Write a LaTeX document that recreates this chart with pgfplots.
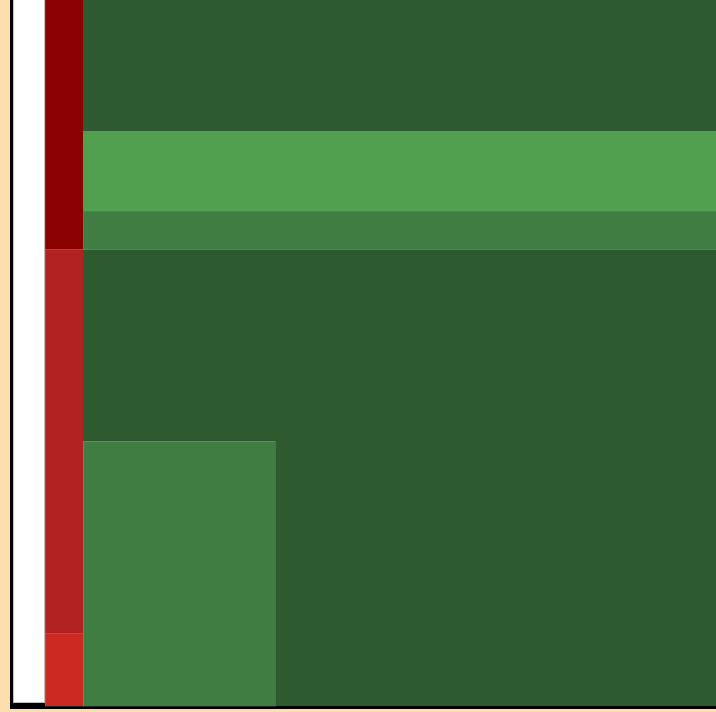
\documentclass[border=0pt]{standalone}
\usepackage{pgfplots}
\pgfplotsset{compat=1.18}
\definecolor{bgorange}{RGB}{255,222,173}
\definecolor{dkred}{RGB}{139,0,0}
\definecolor{fbrick}{RGB}{178,34,34}
\definecolor{redc}{RGB}{204,42,32}
\definecolor{dkgreen}{RGB}{45,90,46}
\definecolor{ltgreen}{RGB}{80,160,80}
\definecolor{mdgreen}{RGB}{63,125,66}
\definecolor{edgegray}{RGB}{190,190,190}
\begin{document}
\begin{tikzpicture}
\begin{axis}[
  hide axis, scale only axis,
  width=716bp, height=712bp,
  xmin=0, xmax=716, ymin=0, ymax=712,
  y dir=reverse, clip=true,
]
% background
\addplot[fill=bgorange, draw=none] coordinates {(0,0) (716,0) (716,712) (0,712)} --cycle;
% black shadow frame
\addplot[fill=black, draw=none] coordinates {(9.5,-5) (720,-5) (720,708.8) (9.5,708.8)} --cycle;
% white box
\addplot[fill=white, draw=edgegray, line width=0.6bp] coordinates {(13,-5) (44.6,-5) (44.6,702.3) (13,702.3)} --cycle;
% red column
\addplot[fill=dkred, draw=white, draw opacity=0.12, line width=0.5bp] coordinates {(45,-5) (83,-5) (83,249) (45,249)} --cycle;
\addplot[fill=fbrick, draw=white, draw opacity=0.12, line width=0.5bp] coordinates {(45,249) (83,249) (83,633) (45,633)} --cycle;
\addplot[fill=redc, draw=white, draw opacity=0.12, line width=0.5bp] coordinates {(45,633) (83,633) (83,706) (45,706)} --cycle;
% green region
\addplot[fill=dkgreen, draw=none] coordinates {(83,-5) (720,-5) (720,706) (83,706)} --cycle;
\addplot[fill=ltgreen, draw=none] coordinates {(83,131) (720,131) (720,211) (83,211)} --cycle;
\addplot[fill=mdgreen, draw=white, draw opacity=0.08, line width=0.5bp] coordinates {(83,211) (720,211) (720,249.5) (83,249.5)} --cycle;
\addplot[fill=mdgreen, draw=white, draw opacity=0.15, line width=0.5bp] coordinates {(83,441) (275,441) (275,706) (83,706)} --cycle;
\end{axis}
\end{tikzpicture}
\end{document}
